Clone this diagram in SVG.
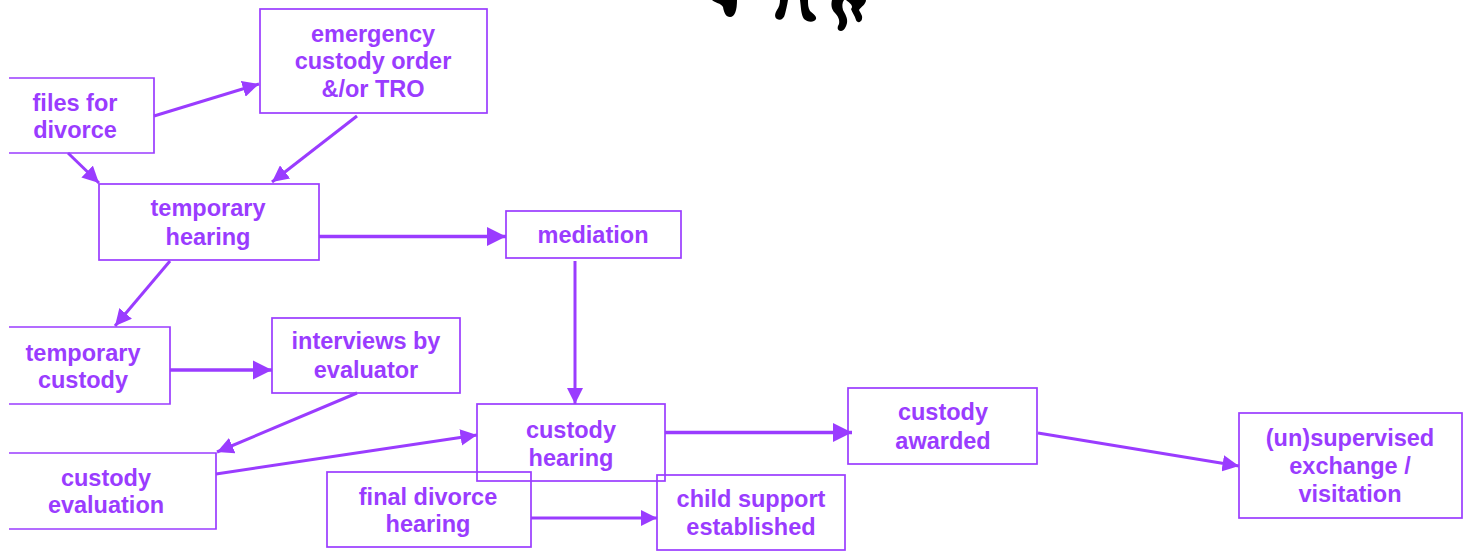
<svg xmlns="http://www.w3.org/2000/svg" width="1464" height="555" viewBox="0 0 1464 555">
<defs>
<style>
.b{fill:none;stroke:#9a3cff;stroke-width:1.7}
.t{font-family:"Liberation Sans",Arial,sans-serif;font-weight:bold;font-size:23.5px;fill:#9a3cff;text-anchor:middle}
.c{fill:none;stroke:#9a3cff;stroke-width:3;marker-end:url(#a)}
.s{fill:#000;stroke:none}
</style>
<marker id="a" viewBox="0 0 10 10" refX="10" refY="5" markerWidth="5.5" markerHeight="5.500" orient="auto"><path d="M0 0L10 5L0 10Z" fill="#9a3cff"/></marker>
</defs>
<rect width="1464" height="555" fill="#fff"/>
<g id="figure">
<path class="s" d="M712 0C715 3 721 3 723 7C724 13 726 17 730 17C735 17 737 10 737 0Z"/>
<path class="s" d="M780 0H788C787 6 786 10 785 14C784 19 780 21 777 19C774 17 775 13 777 10C779 7 780 4 780 0Z"/>
<path class="s" d="M800 0H808C808 4 808 8 810 11C813 14 817 16 816 19C814 23 807 22 804 19C801 15 801 7 800 0Z"/>
<path class="s" d="M832 0H844C842 3 842 6 843 10C845 14 848 18 847 23C846 27 844 31 841 31C837 31 837 27 839 24C840 20 838 16 835 13C831 9 831 4 832 0Z"/>
<path class="s" d="M846 0H866C866 4 861 7 859 10C860 13 863 15 862 19C861 23 857 23 856 20C855 16 852 12 851 9C854 6 850 3 846 0Z"/>
</g>
<g id="connectors">
<path class="c" d="M154 116L259 84"/>
<path class="c" d="M357 116L272 182"/>
<path class="c" d="M68 153L99 183"/>
<path class="c" d="M319 236.500H506" style="stroke-width:3.500"/>
<path class="c" d="M170 261L115 326"/>
<path class="c" d="M575 261V404"/>
<path class="c" d="M170 370H272" style="stroke-width:3.500"/>
<path class="c" d="M357 393L217 452"/>
<path class="c" d="M216 474L477 435"/>
<path class="c" d="M665 432.500H852" style="stroke-width:3.500"/>
<path class="c" d="M1038 433L1239 466"/>
<path class="c" d="M531 518H657"/>
</g>
<g id="files-for-divorce"><path class="b" d="M9 78H154V153H9"/><text class="t" x="75" y="111">files for</text><text class="t" x="75" y="138">divorce</text></g>
<g id="emergency"><rect class="b" x="260" y="9" width="227" height="104"/><text class="t" x="373" y="42">emergency</text><text class="t" x="373" y="69">custody order</text><text class="t" x="373" y="97">&amp;/or TRO</text></g>
<g id="temporary-hearing"><rect class="b" x="99" y="184" width="220" height="76"/><text class="t" x="208" y="216">temporary</text><text class="t" x="208" y="245">hearing</text></g>
<g id="mediation"><rect class="b" x="506" y="211" width="175" height="47"/><text class="t" x="593" y="243">mediation</text></g>
<g id="temporary-custody"><path class="b" d="M9 327H170V404H9"/><text class="t" x="83" y="361">temporary</text><text class="t" x="83" y="388">custody</text></g>
<g id="interviews"><rect class="b" x="272" y="318" width="188" height="75"/><text class="t" x="366" y="349">interviews by</text><text class="t" x="366" y="378">evaluator</text></g>
<g id="custody-evaluation"><path class="b" d="M9 453H216V529H9"/><text class="t" x="106" y="486">custody</text><text class="t" x="106" y="513">evaluation</text></g>
<g id="custody-hearing"><rect class="b" x="477" y="404" width="188" height="77"/><text class="t" x="571" y="438">custody</text><text class="t" x="571" y="466">hearing</text></g>
<g id="final-divorce"><rect class="b" x="327" y="472" width="204" height="75"/><text class="t" x="428" y="505">final divorce</text><text class="t" x="428" y="532">hearing</text></g>
<g id="child-support"><rect class="b" x="657" y="475" width="188" height="75"/><text class="t" x="751" y="507">child support</text><text class="t" x="751" y="535">established</text></g>
<g id="custody-awarded"><rect class="b" x="848" y="388" width="189" height="76"/><text class="t" x="943" y="420">custody</text><text class="t" x="943" y="449">awarded</text></g>
<g id="visitation"><rect class="b" x="1239" y="413" width="223" height="105"/><text class="t" x="1350" y="446">(un)supervised</text><text class="t" x="1350" y="474">exchange /</text><text class="t" x="1350" y="502">visitation</text></g>
</svg>
